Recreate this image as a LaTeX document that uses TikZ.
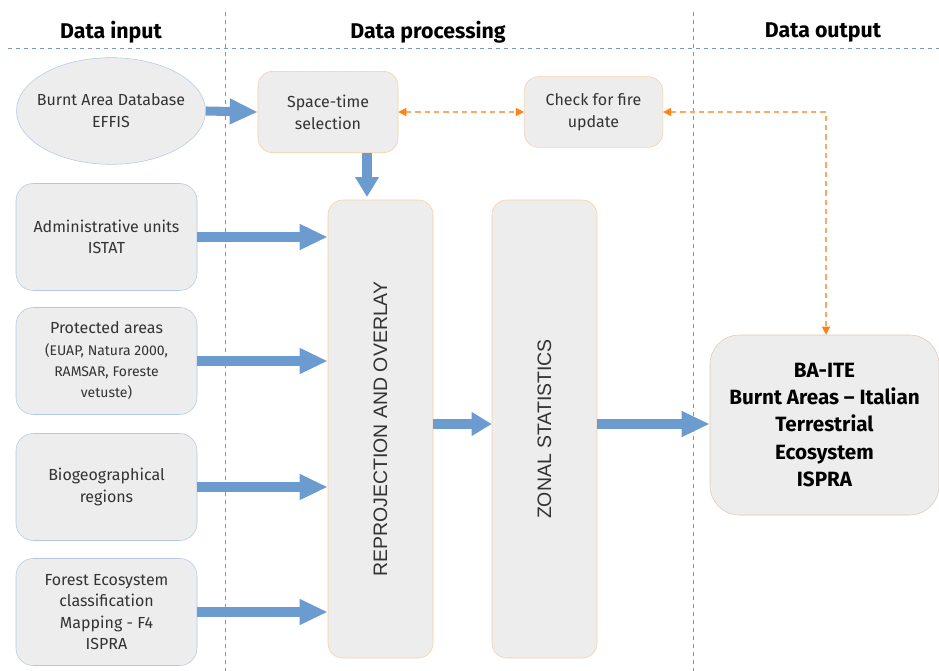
\documentclass[tikz,border=0pt]{standalone}
\usepackage{fontspec}
\setmainfont{Fira Sans}
\newfontfamily\arialfont{Liberation Sans}
\usetikzlibrary{arrows.meta,shapes.geometric}

\definecolor{boxgray}{RGB}{237,237,237}
\definecolor{blueline}{RGB}{180,200,228}
\definecolor{bluearr}{RGB}{108,155,208}
\definecolor{orangeline}{RGB}{248,205,160}
\definecolor{orangedash}{RGB}{250,170,100}
\definecolor{orangetip}{RGB}{255,130,20}
\definecolor{laneline}{RGB}{120,150,195}

\tikzset{
  inbox/.style={draw=blueline, fill=boxgray, rounded corners=13pt, align=center,
    minimum width=135.75pt, minimum height=80.25pt, font=\fontsize{12}{16}\selectfont, text=black!80},
  procbox/.style={draw=orangeline, fill=boxgray, rounded corners=11pt, align=center, text=black!80},
  tallbox/.style={procbox, minimum width=78.75pt, minimum height=343.5pt},
  bigarrow/.style={bluearr, line width=6.8pt, -{Triangle[length=21pt,width=18pt]}},
  linkarrow/.style={orangedash, dash pattern=on 4pt off 3pt, line width=0.8pt, {Triangle[length=6pt,width=6pt,color=orangetip]}-{Triangle[length=6pt,width=6pt,color=orangetip]}},
  lane/.style={laneline, dashed, line width=0.6pt},
  header/.style={font=\fontsize{16}{18}\selectfont\bfseries}
}

\begin{document}
\begin{tikzpicture}[x=0.75pt, y=-0.75pt]
        \useasboundingbox (0,0) rectangle (939,671);
        % swim lanes
        \draw [lane] (8,48) -- (939,48);
        \draw [lane] (225,12) -- (225,671);
        \draw [lane] (693,12) -- (693,671);
        \node [header] (hin) at (111,32) {Data input};
        \node [header] (hproc) at (428,32) {Data processing};
        \node [header] (hout) at (823,32) {Data output};

        % data input
        \node [ellipse, draw=blueline, fill=boxgray, minimum width=141.75pt, minimum height=80pt,
               inner sep=0pt] (effis) at (111,111) {};
        \node [align=center, font=\fontsize{12}{16.5}\selectfont, text=black!80] (effistxt) at (effis.center)
              {Burnt Area Database\\EFFIS};
        \node [inbox] (istat) at (106.5,237) {Administrative units\\ISTAT};
        \node [inbox] (prot) at (106.5,361) {Protected areas\\
              {\fontsize{10.5}{14}\selectfont (EUAP, Natura 2000,}\\
              {\fontsize{10.5}{14}\selectfont RAMSAR, Foreste}\\
              {\fontsize{10.5}{14}\selectfont vetuste)}};
        \node [inbox] (bio) at (106.5,487) {Biogeographical\\regions};
        \node [inbox] (forest) at (106.5,612) {Forest Ecosystem\\classification\\Mapping - F4\\ISPRA};

        % data processing
        \node [procbox, minimum width=105pt, minimum height=61pt,
               font=\fontsize{12}{16.5}\selectfont] (sel) at (328,112) {Space-time\\selection};
        \node [procbox, minimum width=104pt, minimum height=53pt,
               font=\fontsize{12}{16.5}\selectfont] (check) at (593.5,112) {Check for fire\\update};
        \node [tallbox] (reproj) at (380.5,429) {};
        \node [rotate=90, font=\arialfont\fontsize{14.6}{16}\selectfont, text=black!80] (reprojtxt) at (reproj.center) {REPROJECTION AND OVERLAY};
        \node [tallbox] (zonal) at (544.5,429) {};
        \node [rotate=90, font=\arialfont\fontsize{14.6}{16}\selectfont, text=black!80] (zonaltxt) at (zonal.center) {ZONAL STATISTICS};

        % data output
        \node [procbox, draw=orangeline!80!black!60, minimum width=171.75pt, minimum height=135pt,
               rounded corners=22pt, text=black,
               font=\fontsize{15.5}{20.5}\selectfont\bfseries] (bait) at (824.5,425)
              {BA-ITE\\Burnt Areas -- Italian\\Terrestrial\\Ecosystem\\ISPRA};

        % flows
        \draw [bigarrow] (effis.east) -- (sel.west);
        \draw [bigarrow] (istat.east) -- (istat.east -| reproj.west);
        \draw [bigarrow] (prot.east) -- (prot.east -| reproj.west);
        \draw [bigarrow] (bio.east) -- (bio.east -| reproj.west);
        \draw [bigarrow] (forest.east) -- (forest.east -| reproj.west);
        \draw [bigarrow, -{Triangle[length=15pt,width=17pt]}] (sel.south -| 367,0) -- (367,197);
        \draw [bigarrow, -{Triangle[length=15pt,width=17pt]}] (reproj.east |- 0,424) -- (zonal.west |- 0,424);
        \draw [bigarrow] (zonal.east |- 0,424) -- (bait.west |- 0,424);

        % update loop
        \draw [linkarrow] (sel.east) -- (check.west);
        \coordinate (corner) at (826,112);
        \draw [linkarrow] (check.east) -- (corner) -- (corner |- bait.north);
\end{tikzpicture}
\end{document}
